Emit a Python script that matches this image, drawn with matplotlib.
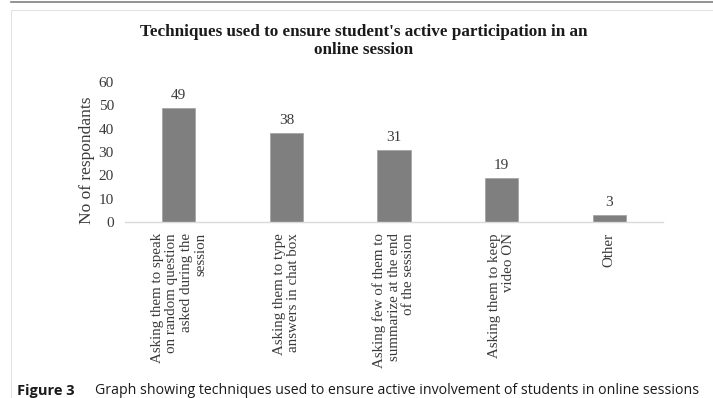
import matplotlib.pyplot as plt
from matplotlib.patches import Rectangle
from matplotlib.lines import Line2D

# data
categories = [
    "Asking them to speak\non random question\nasked during the\nsession",
    "Asking them to type\nanswers in chat box",
    "Asking few of them to\nsummarize at the end\nof the session",
    "Asking them to keep\nvideo ON",
    "Other",
]
respondents = [49, 38, 31, 19, 3]
yticks = [0, 10, 20, 30, 40, 50, 60]

title = "Techniques used to ensure student's active participation in an\nonline session"
caption = "Graph showing techniques used to ensure active involvement of students in online sessions"

serif = "Liberation Serif"
txt = "#3a3a3a"

fig = plt.figure(figsize=(7.13, 3.98), dpi=100)

# page decorations: top rule and light frame
fig.add_artist(Line2D([11/713, 1], [1 - 1.5/398, 1 - 1.5/398], color="#808080", lw=1.2))
fig.add_artist(Rectangle((11/713, -0.05), 1.0, 1 - 10/398 + 0.05, fill=False,
                         edgecolor="#e2e2e2", lw=0.8))

ax = fig.add_axes([125/713, 1 - 222/398, 538/713, 140/398])
x = range(len(categories))
ax.bar(x, respondents, width=0.31, color="#7f7f7f", edgecolor="#a6a6a6", lw=0.6)
for xi, v in zip(x, respondents):
    ax.text(xi, v + 2.5, str(v), ha="center", va="bottom", fontsize=11, family=serif, color=txt)

ax.set_xlim(-0.5, len(categories) - 0.5)
ax.set_ylim(0, 60)
ax.set_yticks(yticks)
ax.set_yticklabels([str(t) for t in yticks], family=serif, fontsize=11, color=txt)
ax.set_xticks(list(x))
ax.set_xticklabels(categories, rotation=90, ha="center", va="top", multialignment="right",
                   family=serif, fontsize=10.8, color=txt, linespacing=1.15)
ax.tick_params(axis="both", length=0)
ax.tick_params(axis="y", pad=8)
ax.tick_params(axis="x", pad=8)
for s in ["top", "right", "left"]:
    ax.spines[s].set_visible(False)
ax.spines["bottom"].set_color("#d9d9d9")
ax.spines["bottom"].set_linewidth(1.0)
ax.set_ylabel("No of respondants", family=serif, fontsize=12.5, color=txt)
ax.yaxis.set_label_coords(-(125 - 95) / 538, (222 - 160) / 140)

fig.text(364/713, 1 - 41/398, title, ha="center", va="center", family=serif,
         fontsize=12.3, fontweight="bold", linespacing=1.25, color="#1a1a1a")

fig.text(17/713, 1 - 391/398, "Figure 3", ha="left", va="center", family="Open Sans",
         fontsize=10.5, fontweight="bold", color="#1a1a1a")
fig.text(95/713, 1 - 391/398, caption, ha="left", va="center", family="Open Sans",
         fontsize=10.2, color="#1a1a1a")

fig.savefig("out.png", dpi=100)
